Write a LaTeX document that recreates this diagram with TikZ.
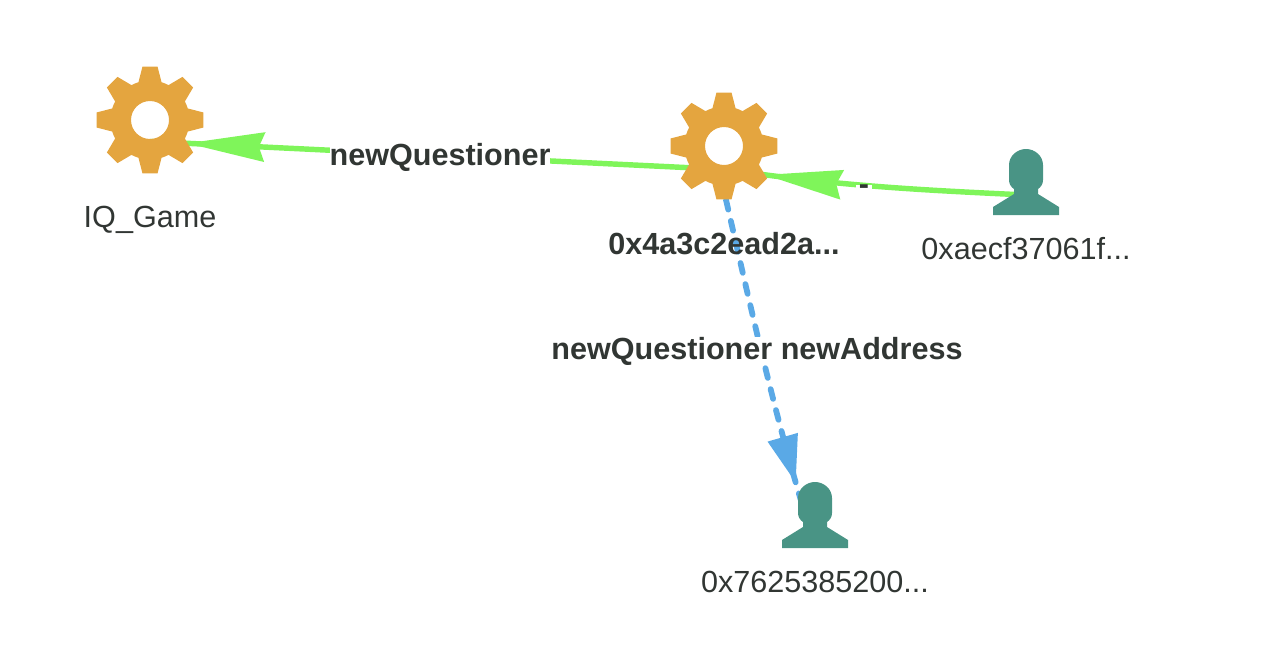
\documentclass[tikz,border=0pt]{standalone}
\usepackage{fontspec}
\setmainfont{Liberation Sans}
\usetikzlibrary{arrows.meta,decorations.markings}

\definecolor{contractcolor}{HTML}{E4A53F}
\definecolor{usercolor}{HTML}{499485}
\definecolor{callcolor}{HTML}{7FF55A}
\definecolor{paycolor}{HTML}{5AA9E6}
\definecolor{textcolor}{HTML}{313633}

\tikzset{
    hub/.style={inner sep=0pt, minimum size=0pt},
    nodetext/.style={font=\fontsize{17.4}{20}\selectfont, text=textcolor},
    edgetext/.style={font=\fontsize{17.4}{20}\selectfont\bfseries, text=textcolor, fill=white, inner sep=0pt},
    tipat/.style args={#1 with #2}{
        postaction={decorate},
        decoration={markings, mark=at position #1 with {\arrow{#2}}}
    },
    calledge/.style={callcolor, line width=3.1pt, tipat={#1 with {Stealth[length=44pt, width=16.4pt, inset=3pt]}}},
    payedge/.style={paycolor, line width=3.3pt, line cap=round, dash pattern=on 5.7pt off 6.6pt, tipat={#1 with {Stealth[length=27pt, width=17pt, inset=0pt]}}},
    gear/.pic={
        \fill[contractcolor, even odd rule] (-17:39.5)
            \foreach \a in {0,45,...,315} {
                -- (\a-17:39.5) -- (\a-8:54) -- (\a+8:54) -- (\a+17:39.5) -- (\a+22.5:39.5)
            } -- cycle (0,0) circle (19);
    },
    person/.pic={
        \fill[usercolor] (-33,33) -- (-33,25) -- (-12,12) -- (-12,7)
            .. controls (-15,5) and (-17,2) .. (-17,-2) -- (-17,-17)
            .. controls (-17,-26) and (-9,-33) .. (0,-33)
            .. controls (9,-33) and (17,-26) .. (17,-17) -- (17,-2)
            .. controls (17,2) and (15,5) .. (12,7) -- (12,12) -- (33,25) -- (33,33) -- cycle;
    }
}

\begin{document}
\begin{tikzpicture}[x=0.02cm, y=-0.02cm]
        \useasboundingbox (0,0) rectangle (1280,652);

        \node[hub] (game) at (150,141.5) {};
        \node[hub, minimum size=1.2cm] (contract) at (726,169.5) {};
        \node[hub] (sender) at (1026,195) {};
        \node[hub] (receiver) at (813,540) {};

        \draw[calledge=0.936] (contract.center) -- (game.center);
        \draw[calledge=0.87] (sender.center) .. controls (920,190) and (840,186) .. (contract.center);
        \draw[payedge=0.83] (contract.south) .. controls (752,313) and (777,426) .. (receiver.center);

        \pic at (150,120) {gear};
        \pic at (724,146) {gear};
        \pic at (1026,182) {person};
        \pic at (815,515) {person};

        \node[edgetext] (gameEdge) at (440,157) {newQuestioner};
        \node[edgetext, inner xsep=1.5pt] (senderEdge) at (864,190) {-};
        \node[edgetext] (receiverEdge) at (757,351) {newQuestioner newAddress};

        \node[nodetext] (gameText) at (150,220) {IQ\_Game};
        \node[nodetext, font=\fontsize{17.4}{20}\selectfont\bfseries] (contractText) at (724,244) {0x4a3c2ead2a...};
        \node[nodetext] (senderText) at (1026,249) {0xaecf37061f...};
        \node[nodetext] (receiverText) at (815,582) {0x7625385200...};
    \end{tikzpicture}
\end{document}
